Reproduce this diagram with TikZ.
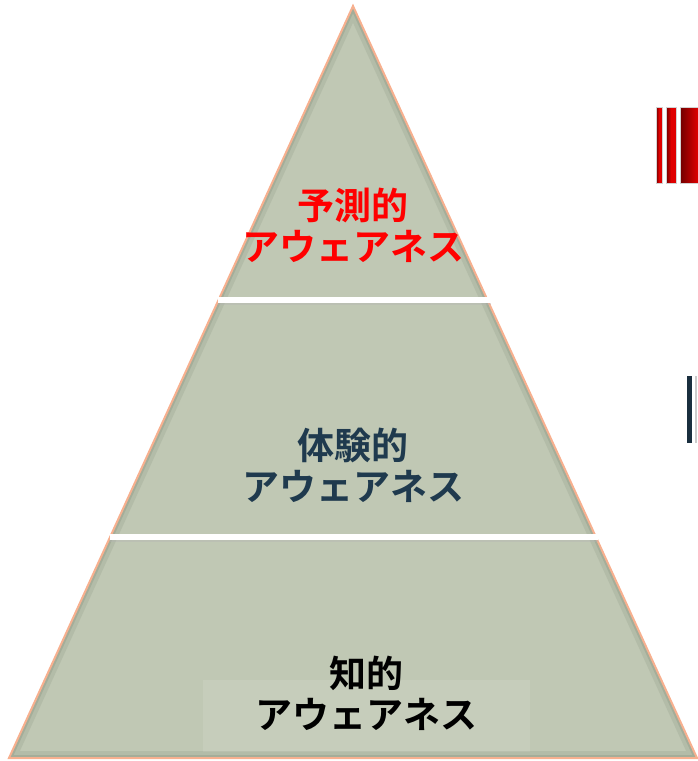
\documentclass[tikz,border=0pt]{standalone}
\usepackage{fontspec}
\newfontfamily\jp{Noto Sans CJK JP}[BoldFont={Noto Sans CJK JP Bold}]
\definecolor{pyrfill}{HTML}{C0C8B4}
\definecolor{pyrlight}{HTML}{C6CDBB}
\definecolor{pyrline}{HTML}{F7B08F}
\definecolor{pyrdark}{HTML}{6F7A66}
\definecolor{txtred}{HTML}{FF0000}
\definecolor{txtblue}{HTML}{1F3A4E}
\definecolor{barred}{HTML}{E00000}
\definecolor{bardark}{HTML}{700000}
\tikzset{
  lbl/.style={font=\jp\bfseries\fontsize{37}{41}\selectfont, align=center, inner sep=0pt},
  sep/.style={white, line width=6pt},
  redbar/.style={draw=gray!35, line width=0.6pt, left color=bardark, right color=barred, middle color=barred},
}
\begin{document}
\begin{tikzpicture}[x=1pt,y=-1pt]
\useasboundingbox (0,0) rectangle (697,761);
% pyramid
\coordinate (apex) at (353,6);
\coordinate (bl) at (9,758);
\coordinate (br) at (697,758);
\fill[pyrfill] (apex) -- (br) -- (bl) -- cycle;
\begin{scope}
  \clip (apex) -- (br) -- (bl) -- cycle;
  \fill[pyrlight] (203,680) rectangle (530,752);
  \draw[pyrdark, line width=14pt, opacity=0.15] (apex) -- (br) -- (bl) -- cycle;
  \draw[pyrdark, line width=6pt, opacity=0.22] (apex) -- (br) -- (bl) -- cycle;
\end{scope}
\draw[pyrline, line width=2pt, line join=miter] (apex) -- (br) -- (bl) -- cycle;
% separators
\coordinate (s1l) at (218,300);
\coordinate (s1r) at (491,300);
\coordinate (s2l) at (110,537);
\coordinate (s2r) at (598,537);
\draw[black!30, line width=6pt, opacity=0.35] ([yshift=-2pt]s1l) -- ([yshift=-2pt]s1r);
\draw[black!30, line width=6pt, opacity=0.35] ([yshift=-2pt]s2l) -- ([yshift=-2pt]s2r);
\draw[sep] (s1l) -- (s1r);
\draw[sep] (s2l) -- (s2r);
% texts
\node[lbl, text=txtred] (top) at (353,225) {予測的\\アウェアネス};
\node[lbl, text=txtblue] (mid) at (353,465) {体験的\\アウェアネス};
\node[lbl, text=black] (bot) at (366,693) {知的\\アウェアネス};
% right-side bars
\shade[redbar] (656,107) rectangle (662,183);
\shade[redbar] (666,107) rectangle (676,183);
\shade[draw=gray!35, line width=0.6pt, left color=bardark, right color=barred] (680,107) rectangle (698,183);
\fill[txtblue!80!black] (687,376) rectangle (692,443);
\fill[gray!40] (695,376) rectangle (697,443);
\end{tikzpicture}
\end{document}
